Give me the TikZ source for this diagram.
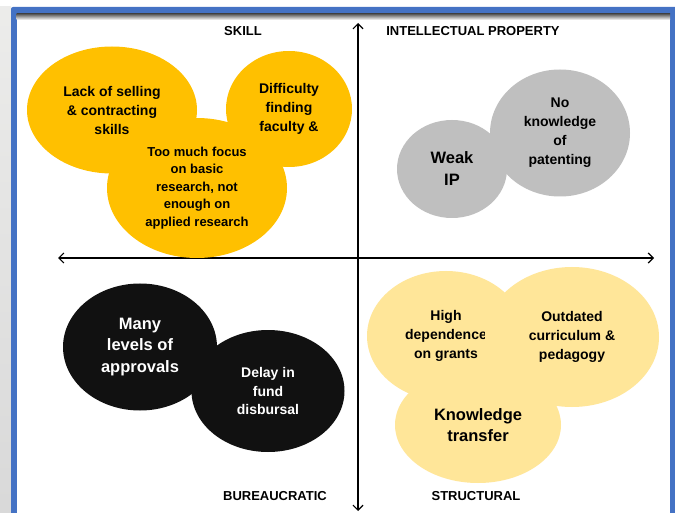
\documentclass[tikz,border=0pt]{standalone}
\usepackage{fontspec}
\setmainfont{Liberation Sans}
\usetikzlibrary{arrows.meta,shapes.geometric}

\definecolor{skillorange}{HTML}{FFC000}
\definecolor{ipgray}{HTML}{BFBFBF}
\definecolor{bureaublack}{HTML}{111111}
\definecolor{structyellow}{HTML}{FFE699}
\definecolor{frameblue}{HTML}{4472C4}

\begin{document}
\begin{tikzpicture}
    [
      x=1pt, y=-1pt,
      blob/.style={ellipse,inner sep=0pt,align=center,
        font=\bfseries\fontsize{14}{19}\selectfont},
      skill/.style={blob,fill=skillorange},
      ip/.style={blob,fill=ipgray},
      bureau/.style={blob,fill=bureaublack,text=white},
      struct/.style={blob,fill=structyellow},
      quadrant/.style={font=\bfseries\fontsize{13}{15}\selectfont},
      axis/.style={{Straight Barb[length=5pt,width=10pt]}-{Straight Barb[length=5pt,width=10pt]},
        line width=1.2pt,draw=black}
    ]

    \useasboundingbox (0,0) rectangle (675,513);

    % slide behind the frame
    \shade [top color=yellow!8!black!8,bottom color=black!15] (0,7) rectangle (11,513);
    \fill [frameblue,rounded corners=2pt] (11,7) rectangle (685,530);
    \fill [white] (16.5,13.5) rectangle (670,530);
    \shade [top color=black!70,bottom color=white] (16.5,13.5) rectangle (670,20);

    % axes
    \coordinate (top) at (358,23);
    \coordinate (bottom) at (358,511);
    \coordinate (left) at (58,258);
    \coordinate (right) at (654,258);
    \draw [axis] (bottom) -- (top);
    \draw [axis] (left) -- (right);

    \node at (243,31) [quadrant] (skilllabel) {SKILL};
    \node at (473,31) [quadrant] (iplabel) {INTELLECTUAL PROPERTY};
    \node at (275,496) [quadrant] (bureaulabel) {BUREAUCRATIC};
    \node at (476,496) [quadrant] (structlabel) {STRUCTURAL};

    % skill
    \node at (112,110) [skill,minimum width=170pt,minimum height=127pt] (selling)
      {Lack of selling\\\& contracting\\skills};
    \node at (289,109) [skill,minimum width=126pt,minimum height=116pt] (faculty)
      {Difficulty\\finding\\faculty \&};
    \node at (197,188) [skill,minimum width=180pt,minimum height=140pt,
      font=\bfseries\fontsize{13}{17.5}\selectfont] (basic)
      {Too much focus\\on basic\\research, not\\enough on\\applied research};

    % intellectual property
    \node at (560,133) [ip,minimum width=140pt,minimum height=127pt] (patenting)
      {No\\knowledge\\of\\patenting};
    \node at (452,169) [ip,minimum width=110pt,minimum height=98pt,
      font=\bfseries\fontsize{16.5}{22}\selectfont] (weakip) {Weak\\IP};

    % bureaucratic
    \node at (140,347) [bureau,minimum width=154pt,minimum height=127pt,
      font=\bfseries\fontsize{16.5}{21.5}\selectfont] (approvals)
      {Many\\levels of\\approvals};
    \node at (268,391) [bureau,minimum width=153pt,minimum height=122pt,
      font=\bfseries\fontsize{14}{18.5}\selectfont] (disbursal)
      {Delay in\\fund\\disbursal};

    % structural
    \node at (446,336) [struct,minimum width=158pt,minimum height=130pt] (grants)
      {High\\dependence\\on grants};
    \node at (572,337) [struct,minimum width=174pt,minimum height=140pt] (curriculum)
      {Outdated\\curriculum \&\\pedagogy};
    \node at (478,425) [struct,minimum width=166pt,minimum height=116pt,
      font=\bfseries\fontsize{16.5}{21}\selectfont] (transfer)
      {Knowledge\\transfer};
  \end{tikzpicture}
\end{document}
